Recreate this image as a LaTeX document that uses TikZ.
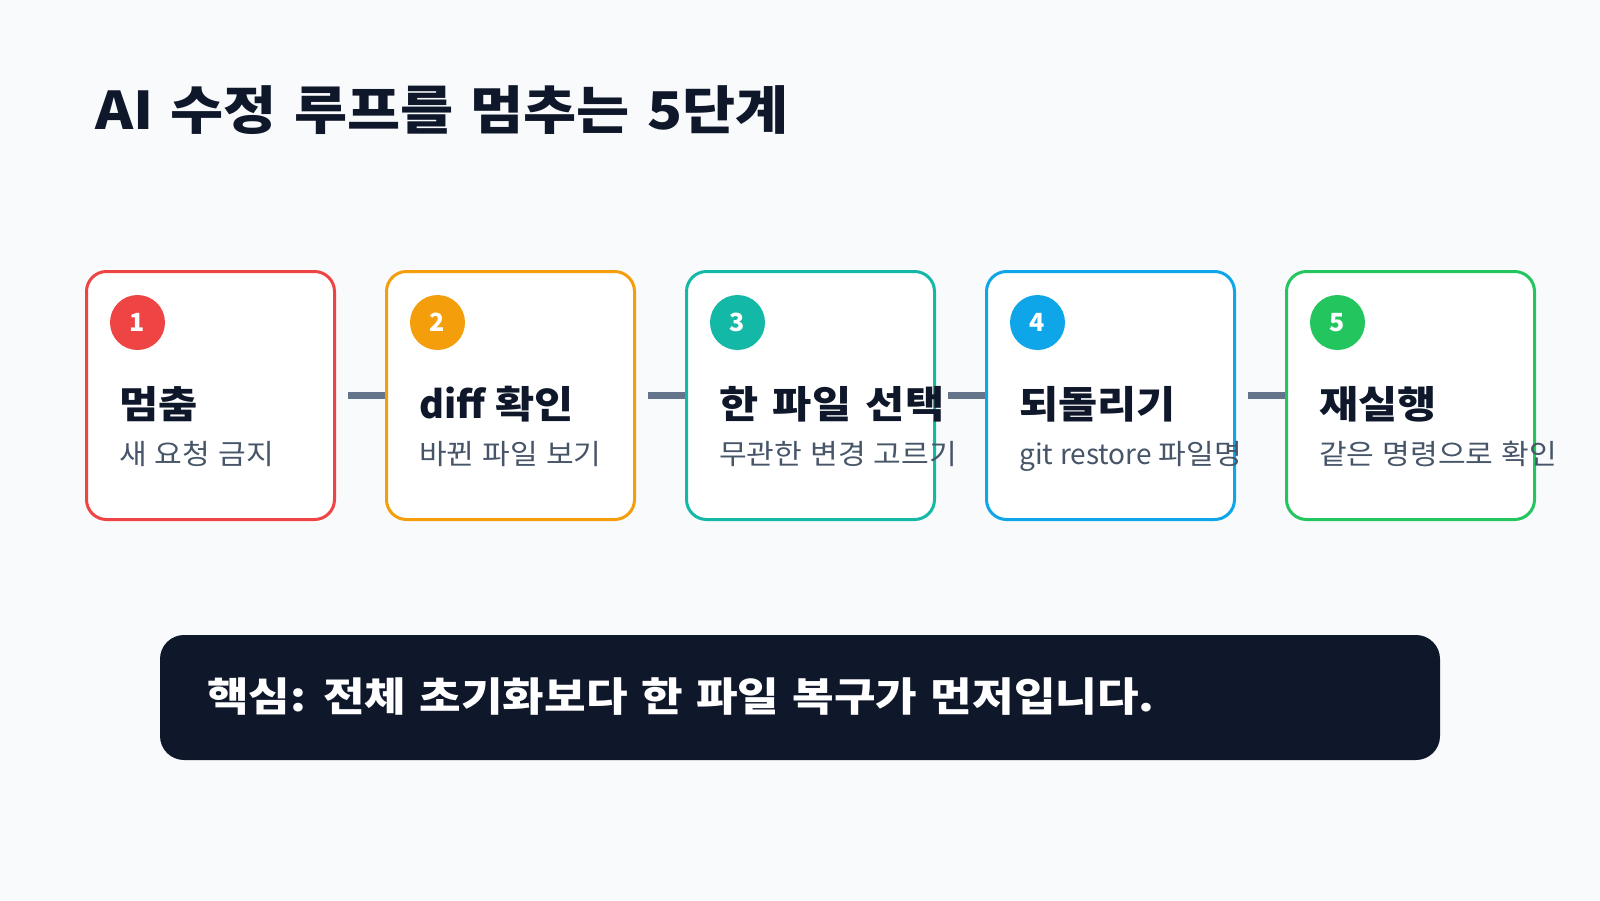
\documentclass[tikz,border=0pt]{standalone}
\usepackage{fontspec}
\setmainfont{Noto Sans CJK KR}
\newfontfamily\fT{Noto Sans CJK KR}[FakeStretch=1.11,WordSpace=1.3]
\newfontfamily\fA{Noto Sans CJK KR}[FakeStretch=1.12,WordSpace=1.5]
\newfontfamily\fB{Noto Sans CJK KR}[FakeStretch=1.13,WordSpace=1.3]
\newfontfamily\fS{Noto Sans CJK KR}[FakeStretch=1.075,WordSpace=1.2]
\newfontfamily\fL{Noto Sans CJK KR}[WordSpace=1.1]
\definecolor{bgc}{HTML}{F8FAFC}
\definecolor{ink}{HTML}{0F172A}
\definecolor{subc}{HTML}{475569}
\definecolor{conc}{HTML}{64748B}
\definecolor{cred}{HTML}{EF4444}
\definecolor{corange}{HTML}{F59E0B}
\definecolor{cteal}{HTML}{14B8A6}
\definecolor{csky}{HTML}{0EA5E9}
\definecolor{cgreen}{HTML}{22C55E}
\tikzset{
  card/.style={draw=#1, fill=white, line width=3pt, rounded corners=20pt,
    minimum width=248pt, minimum height=248pt, inner sep=0pt},
  badge/.style={circle, fill=#1, minimum size=55pt, inner sep=0pt, text=white,
    font=\fontsize{25}{28}\selectfont\bfseries},
  head/.style={anchor=base west, inner sep=0pt, text=ink,
    font=\fA\fontsize{38}{44}\selectfont\bfseries},
  sub/.style={anchor=base west, inner sep=0pt, text=subc,
    font=\fS\fontsize{28}{32}\selectfont},
  conn/.style={draw=conc, line width=7pt},
}
\begin{document}
\begin{tikzpicture}[x=1pt,y=-1pt]
\fill[bgc] (0,0) rectangle (1600,900);
\useasboundingbox (0,0) rectangle (1600,900);
\node[anchor=base west, inner sep=0pt, text=ink, font=\fT\fontsize{52}{60}\selectfont\bfseries] (title) at (95,129) {AI 수정 루프를 멈추는 5단계};
% connectors
\coordinate (k1) at (348,395.5);
\coordinate (k2) at (648,395.5);
\coordinate (k3) at (948,395.5);
\coordinate (k4) at (1248,395.5);
\node[card=cred] (c1) at (210.5,395.5) {};
\node[card=corange] (c2) at (510.5,395.5) {};
\node[card=cteal] (c3) at (810.5,395.5) {};
\node[card=csky] (c4) at (1110.5,395.5) {};
\node[card=cgreen] (c5) at (1410.5,395.5) {};
\draw[conn] (k1) -- (c2.west);
\draw[conn] (k2) -- (c3.west);
\draw[conn] (k3) -- (c4.west);
\draw[conn] (k4) -- (c5.west);
\node[badge=cred] (b1) at (137.5,322.5) {1};
\node[badge=corange] (b2) at (437.5,322.5) {2};
\node[badge=cteal] (b3) at (737.5,322.5) {3};
\node[badge=csky] (b4) at (1037.5,322.5) {4};
\node[badge=cgreen] (b5) at (1337.5,322.5) {5};
\node[head] (h1) at (119,418) {멈춤};
\node[head] (h2) at (419,418) {{\fL\bfseries diff }확인};
\node[head] (h3) at (719,418) {한 파일 선택};
\node[head] (h4) at (1019,418) {되돌리기};
\node[head] (h5) at (1319,418) {재실행};
\node[sub] (s1) at (119,464) {새 요청 금지};
\node[sub] (s2) at (419,464) {바뀐 파일 보기};
\node[sub] (s3) at (719,464) {무관한 변경 고르기};
\node[sub] (s4) at (1019,464) {{\fL git restore }파일명};
\node[sub] (s5) at (1319,464) {같은 명령으로 확인};
\node[fill=ink, rounded corners=24pt, minimum width=1280pt, minimum height=125pt, inner sep=0pt] (note) at (800,697.5) {};
\node[anchor=base west, inner sep=0pt, text=white, font=\fB\fontsize{40}{46}\selectfont\bfseries] (notetext) at (207,711) {핵심: 전체 초기화보다 한 파일 복구가 먼저입니다.};
\end{tikzpicture}
\end{document}
